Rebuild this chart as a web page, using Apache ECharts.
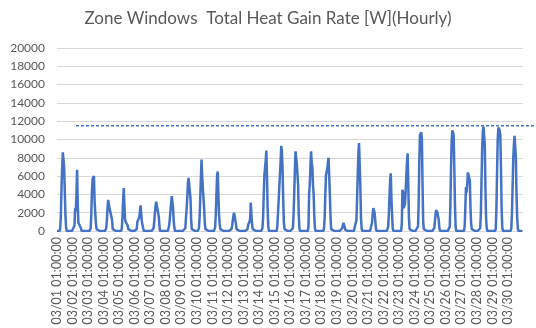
<!DOCTYPE html>
<html>
<head>
<meta charset="utf-8">
<script src="https://cdn.jsdelivr.net/npm/echarts@6/dist/echarts.min.js"></script>
<style>
  html, body { margin: 0; padding: 0; background: #ffffff; }
  #chart { width: 536px; height: 328px; }
</style>
</head>
<body>
<div id="chart"></div>
<script>
// Chart title
const chartTitle = 'Zone Windows  Total Heat Gain Rate [W](Hourly)';

// Days of the run period and the hour stamps of each day
const days = ['03/01','03/02','03/03','03/04','03/05','03/06','03/07','03/08','03/09','03/10',
              '03/11','03/12','03/13','03/14','03/15','03/16','03/17','03/18','03/19','03/20',
              '03/21','03/22','03/23','03/24','03/25','03/26','03/27','03/28','03/29','03/30'];
const hours = ['01:00:00','02:00:00','03:00:00','04:00:00','05:00:00','06:00:00','07:00:00','08:00:00',
               '09:00:00','10:00:00','11:00:00','12:00:00','13:00:00','14:00:00','15:00:00','16:00:00',
               '17:00:00','18:00:00','19:00:00','20:00:00','21:00:00','22:00:00','23:00:00','24:00:00'];

// Hourly window heat gain [W], one row of 24 hours per day
const gainByDay = [
  [0,0,0,0,0,300,1800,4800,7000,8600,8700,7000,4300,1800,400,0,0,0,0,0,0,0,0,0],
  [0,0,0,600,2500,2200,4000,6700,3000,900,800,800,700,300,0,0,0,0,0,0,0,0,0,0],
  [0,0,0,0,300,2000,4500,5700,5900,6000,3300,2000,900,200,0,0,0,0,0,0,0,0,0,0],
  [0,0,0,0,300,1200,2600,3400,3300,2500,2400,2700,2600,1200,200,0,0,0,0,0,0,0,0,0],
  [0,0,0,0,300,1500,3400,4700,2800,1300,1000,1000,900,600,200,0,0,0,0,0,0,0,0,0],
  [0,0,0,200,1000,1100,1200,1500,2200,2800,1800,1000,800,300,0,0,0,0,0,0,0,0,0,0],
  [0,0,0,0,0,300,1000,1900,2700,3200,3300,3100,2000,1600,600,0,0,0,0,0,0,0,0,0],
  [0,0,0,0,200,600,1300,2100,3000,3800,4000,2600,1200,400,0,0,0,0,0,0,0,0,0,0],
  [0,0,0,0,0,0,300,1500,2400,3600,5300,5800,5900,6000,3500,1200,200,0,0,0,0,0,0,0],
  [0,0,0,300,1500,3500,5800,7800,6000,4700,4600,2500,900,200,0,0,0,0,0,0,0,0,0,0],
  [0,0,0,0,400,1800,4000,6100,6500,4000,1800,800,200,0,0,0,0,0,0,0,0,0,0,0],
  [0,0,0,0,0,200,500,1000,1600,2000,1700,1600,800,200,0,0,0,0,0,0,0,0,0,0],
  [0,0,0,0,0,0,200,700,900,1000,1400,3100,1800,800,200,0,0,0,0,0,0,0,0,0],
  [0,0,0,0,0,300,1500,4000,6100,6900,7700,8800,6000,2500,500,0,0,0,0,0,0,0,0,0],
  [0,0,0,0,600,2000,3300,4800,6200,7500,9300,8700,6900,3500,1000,200,0,0,0,0,0,0,0,0],
  [0,0,0,0,300,1800,4100,6500,8700,8000,7400,7200,5000,1800,300,0,0,0,0,0,0,0,0,0],
  [0,0,0,0,500,4100,5000,7000,8700,7500,7000,5000,4000,1500,300,0,0,0,0,0,0,0,0,0],
  [0,0,0,0,300,1500,4000,6100,6300,6800,7500,8000,6000,4000,1500,200,0,0,0,0,0,0,0,0],
  [0,0,0,0,0,0,0,100,300,600,900,800,400,100,0,0,0,0,0,0,0,0,0,0],
  [0,0,0,0,0,200,1200,3500,6000,8500,9600,9400,5000,1500,300,0,0,0,0,0,0,0,0,0],
  [0,0,0,0,0,200,900,1800,2500,2300,2000,1200,300,0,0,0,0,0,0,0,0,0,0,0],
  [0,0,0,0,0,0,0,500,1800,3800,5600,6300,3500,1800,300,0,0,0,0,0,0,0,0,0],
  [0,0,0,0,800,4500,4200,2500,2400,3000,4500,6000,7500,8500,5000,1500,200,0,0,0,0,0,0,0],
  [0,0,0,0,0,500,3000,7500,10500,10700,10800,10000,5000,1000,200,0,0,0,0,0,0,0,0,0],
  [0,0,0,0,0,0,300,1000,1800,2300,2200,2000,1900,1200,300,0,0,0,0,0,0,0,0,0],
  [0,0,0,0,0,0,500,3000,7000,10000,11000,10900,10500,7000,3000,500,0,0,0,0,0,0,0,0],
  [0,0,0,0,0,500,2500,4800,4200,5200,6400,6500,5800,5500,2500,800,200,0,0,0,0,0,0,0],
  [0,0,0,0,0,300,2000,5500,9000,10800,11400,11200,9500,5000,1500,300,0,0,0,0,0,0,0,0],
  [0,0,0,0,0,300,2500,6500,10000,11300,11400,11000,10500,7000,2500,400,0,0,0,0,0,0,0,0],
  [0,0,0,0,0,300,2000,5000,8000,9500,10400,10300,8000,4000,1500,300,0,0,0,0,0,0,0,0]
];

// Dashed reference level [W]
const refLevel = 11500;

// Y axis range
const yMin = 0, yMax = 20000, yStep = 2000;

const categories = [];
days.forEach(d => hours.forEach(h => categories.push(d + ' ' + h)));
const gain = [].concat(...gainByDay);

const textColor = '#595959';
const lineColor = '#4472C4';
const font = 'Lato, "Liberation Sans", sans-serif';

const chart = echarts.init(document.getElementById('chart'), null, { renderer: 'canvas' });
chart.setOption({
  animation: false,
  backgroundColor: '#ffffff',
  title: {
    text: chartTitle,
    left: 'center',
    top: 5,
    textStyle: { color: textColor, fontSize: 17, fontWeight: 'normal', fontFamily: font }
  },
  grid: [
    { left: 57, right: 13, top: 48, bottom: 97, containLabel: false },
    { left: 76, right: 0, top: 48, bottom: 97, containLabel: false }
  ],
  xAxis: [
    {
      type: 'category',
      gridIndex: 0,
      data: categories,
      boundaryGap: false,
      axisLine: { show: false },
      axisTick: { show: false },
      axisLabel: {
        interval: 23,
        rotate: 90,
        margin: 6,
        color: textColor,
        fontSize: 12.5,
        fontFamily: font
      },
      splitLine: { show: false }
    },
    { type: 'value', gridIndex: 1, min: 0, max: 1, show: false }
  ],
  yAxis: [
    {
      type: 'value',
      gridIndex: 0,
      min: yMin,
      max: yMax,
      interval: yStep,
      axisLine: { show: false },
      axisTick: { show: false },
      axisLabel: {
        color: textColor,
        fontSize: 12,
        margin: 12,
        fontFamily: font,
        formatter: v => String(v)
      },
      splitLine: { lineStyle: { color: '#d9d9d9', width: 1 } }
    },
    { type: 'value', gridIndex: 1, min: yMin, max: yMax, show: false }
  ],
  series: [
    {
      type: 'line',
      xAxisIndex: 0,
      yAxisIndex: 0,
      data: gain,
      showSymbol: false,
      symbol: 'none',
      lineStyle: { color: lineColor, width: 2.5 },
      z: 3
    },
    {
      type: 'line',
      xAxisIndex: 1,
      yAxisIndex: 1,
      data: [[0, refLevel], [1, refLevel]],
      symbol: 'none',
      lineStyle: { color: lineColor, width: 1.5, type: [3, 2] },
      z: 2
    }
  ]
});
</script>
</body>
</html>
